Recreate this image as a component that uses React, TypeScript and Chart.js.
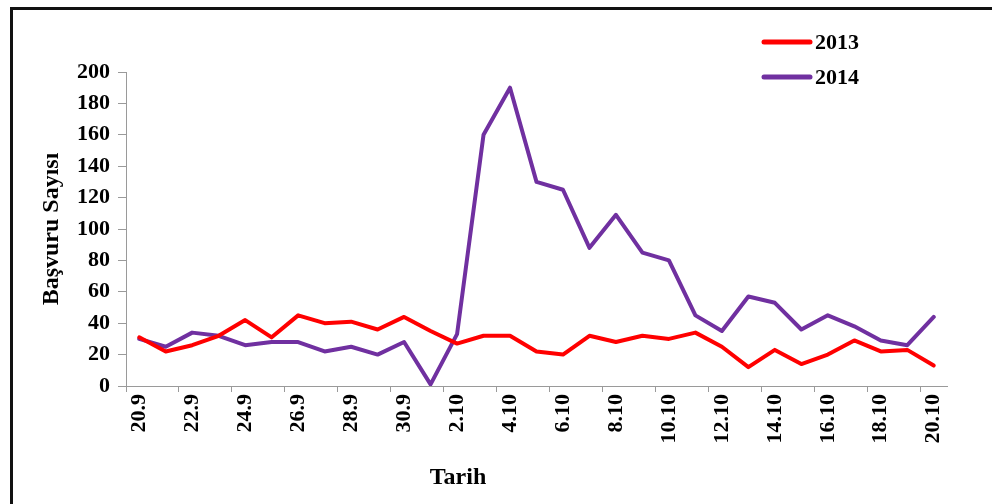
import React, { useEffect, useRef } from "react";
import { Chart, registerables } from "chart.js";

Chart.register(...registerables);

const dateLabels = [
  "20.9", "21.9", "22.9", "23.9", "24.9", "25.9", "26.9", "27.9", "28.9", "29.9", "30.9",
  "1.10", "2.10", "3.10", "4.10", "5.10", "6.10", "7.10", "8.10", "9.10", "10.10",
  "11.10", "12.10", "13.10", "14.10", "15.10", "16.10", "17.10", "18.10", "19.10", "20.10",
];

const series2013 = [31, 22, 26, 32, 42, 31, 45, 40, 41, 36, 44, 35, 27, 32, 32, 22, 20, 32, 28, 32, 30, 34, 25, 12, 23, 14, 20, 29, 22, 23, 13];
const series2014 = [30, 25, 34, 32, 26, 28, 28, 22, 25, 20, 28, 1, 33, 160, 190, 130, 125, 88, 109, 85, 80, 45, 35, 57, 53, 36, 45, 38, 29, 26, 44];

const seriesNames = ["2013", "2014"];
const seriesColors = ["#FF0000", "#7030A0"];

const yTitle = "Başvuru Sayısı";
const xTitle = "Tarih";

const FONT = "'Liberation Serif', 'Times New Roman', serif";

const legendPlugin = {
  id: "customLegend",
  afterDraw(chart: any) {
    const ctx = chart.ctx;
    ctx.save();
    const rows = [42, 77];
    chart.data.datasets.forEach((ds: any, i: number) => {
      const y = rows[i];
      ctx.strokeStyle = ds.borderColor;
      ctx.lineWidth = 5;
      ctx.lineCap = "round";
      ctx.beginPath();
      ctx.moveTo(764, y);
      ctx.lineTo(810, y);
      ctx.stroke();
      ctx.fillStyle = "#000";
      ctx.font = `bold 22px ${FONT}`;
      ctx.textBaseline = "middle";
      ctx.textAlign = "left";
      ctx.fillText(ds.label, 815, y + 1);
    });
    // x axis title
    ctx.fillStyle = "#000";
    ctx.font = `bold 24px ${FONT}`;
    ctx.textAlign = "center";
    ctx.textBaseline = "middle";
    ctx.fillText(xTitle, 458, 478);
    ctx.restore();
  },
};

export default function App() {
  const ref = useRef<HTMLCanvasElement | null>(null);

  useEffect(() => {
    if (!ref.current) return;
    const chart = new Chart(ref.current, {
      type: "line",
      data: {
        labels: dateLabels,
        datasets: [
          {
            label: seriesNames[0],
            data: series2013,
            borderColor: seriesColors[0],
            backgroundColor: seriesColors[0],
            borderWidth: 4,
            pointRadius: 0,
            tension: 0,
            borderJoinStyle: "round",
            borderCapStyle: "round",
          },
          {
            label: seriesNames[1],
            data: series2014,
            borderColor: seriesColors[1],
            backgroundColor: seriesColors[1],
            borderWidth: 4,
            pointRadius: 0,
            tension: 0,
            borderJoinStyle: "round",
            borderCapStyle: "round",
          },
        ],
      },
      options: {
        animation: false,
        responsive: false,
        maintainAspectRatio: false,
        layout: { padding: { top: 72, right: 45, left: 0, bottom: 0 } },
        plugins: {
          legend: { display: false },
          tooltip: { enabled: false },
        },
        scales: {
          x: {
            type: "category",
            offset: true,
            afterFit: (s: any) => {
              s.height = 118;
            },
            border: { display: true, color: "#9a9a9a", width: 1 },
            grid: {
              offset: true,
              drawOnChartArea: false,
              drawTicks: true,
              tickLength: 6,
              color: (c: any) => (c.index % 2 === 0 ? "#9a9a9a" : "rgba(0,0,0,0)"),
            },
            ticks: {
              autoSkip: false,
              maxRotation: 90,
              minRotation: 90,
              padding: 2,
              color: "#000",
              font: { family: FONT, size: 22, weight: "bold" },
              callback: (_v: any, i: number) => (i % 2 === 0 ? dateLabels[i] : ""),
            },
            title: { display: false },
          },
          y: {
            min: 0,
            max: 200,
            afterFit: (s: any) => {
              s.width = 126;
            },
            border: { display: true, color: "#9a9a9a", width: 1 },
            grid: {
              drawOnChartArea: false,
              drawTicks: true,
              tickLength: 8,
              color: "#9a9a9a",
            },
            ticks: {
              stepSize: 20,
              padding: 8,
              color: "#000",
              font: { family: FONT, size: 22, weight: "bold" },
            },
            title: {
              display: true,
              text: yTitle,
              color: "#000",
              font: { family: FONT, size: 24, weight: "bold" },
              padding: { top: 37, bottom: 0 },
            },
          },
        },
      },
      plugins: [legendPlugin],
    } as any);
    return () => chart.destroy();
  }, []);

  return (
    <div
      style={{
        position: "absolute",
        left: 0,
        top: 0,
        width: 992,
        height: 504,
        overflow: "hidden",
        background: "#fff",
      }}
    >
      <canvas
        ref={ref}
        width={992}
        height={504}
        style={{ position: "absolute", left: 0, top: 0, width: 992, height: 504 }}
      />
      <div
        style={{
          position: "absolute",
          left: 10,
          top: 7,
          width: 1200,
          height: 800,
          borderTop: "3px solid #111",
          borderLeft: "3px solid #111",
          pointerEvents: "none",
        }}
      />
    </div>
  );
}
